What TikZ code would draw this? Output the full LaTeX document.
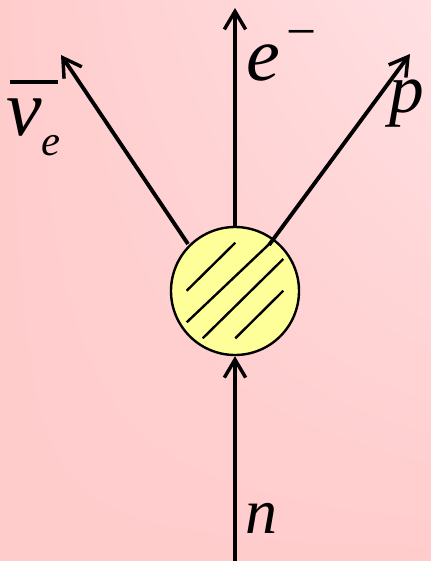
\documentclass[tikz,border=0pt]{standalone}
\usepackage{fontspec}
\newfontfamily\timesfont{Liberation Serif}[ItalicFont={Liberation Serif Italic}]
\usetikzlibrary{arrows.meta,shadings}
\definecolor{bgdark}{RGB}{255,204,204}
\definecolor{bglight}{RGB}{255,224,227}
\definecolor{blobfill}{RGB}{255,255,153}
\begin{document}
\begin{tikzpicture}[x=0.75pt,y=-0.75pt,
  particle/.style={line width=2.9pt,-{Straight Barb[length=13.5pt,width=16pt,line width=2.6pt]}},
  hatch/.style={line width=1.8pt},
  lbl/.style={anchor=base west,inner sep=0pt}]
\shade[upper left=bgdark,upper right=bglight,lower left=bgdark,lower right=bgdark]
  (0,0) rectangle (431,561);
\useasboundingbox (0,0) rectangle (431,561);
\node[circle,draw,line width=1.8pt,fill=blobfill,minimum size=96pt,inner sep=0pt] (blob) at (235,291) {};
\coordinate (nin) at (235,561);
\coordinate (etip) at (235,8);
\coordinate (nutip) at (61,55);
\coordinate (ptip) at (410,54);
\coordinate (nustart) at (188,244);
\coordinate (pstart) at (269,245);
\draw[hatch] (186.7,290.7) -- (235.3,242.7);
\draw[hatch] (186.7,322.3) -- (270,243.3);
\draw[hatch] (202.7,338.3) -- (283.3,259);
\draw[hatch] (235.3,338.3) -- (283.3,290.7);
\draw[particle] (nin) -- (blob.south);
\draw[particle] (blob.north) -- (etip);
\draw[particle] (nustart) -- (nutip);
\draw[particle] (pstart) -- (ptip);
\node[lbl,font=\timesfont\fontsize{57pt}{60pt}\selectfont\itshape] (elab) at (246,80) {e\kern0.08em\raisebox{23pt}{\fontsize{40pt}{42pt}\selectfont\upshape −}};
\node[lbl,font=\timesfont\fontsize{52pt}{56pt}\selectfont\itshape] (plab) at (389,112) {p};
\node[lbl,font=\timesfont\fontsize{48pt}{52pt}\selectfont\itshape] (nlab) at (245,533) {n};
\node[lbl,font=\timesfont\fontsize{60pt}{64pt}\selectfont\itshape] (nulab) at (6,135) {\rlap{\kern0.05em\rule[0.64em]{0.6em}{0.05em}}ν\raisebox{-0.25em}{\fontsize{32pt}{34pt}\selectfont\itshape e}};
\end{tikzpicture}
\end{document}
